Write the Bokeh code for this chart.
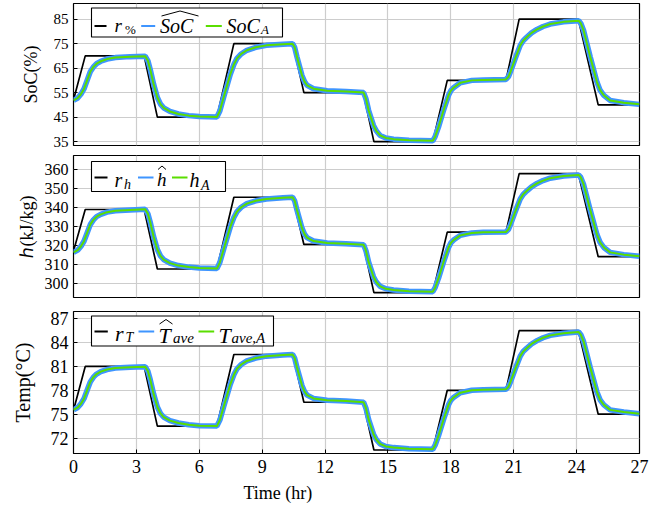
from bokeh.plotting import figure
from bokeh.layouts import column
from bokeh.models import Range1d, BoxAnnotation, Label, Arrow, Title, FixedTicker
from bokeh.embed import file_html
from bokeh.resources import INLINE

# ---------------- data ----------------
# reference trajectories r (piecewise linear)
t_ref = [0, 0.56, 3.37, 4.0, 6.84, 7.65, 10.46, 10.99, 13.82, 14.33,
         17.14, 17.83, 20.63, 21.26, 24.08, 25.03, 27]
soc_ref = [52, 70, 70, 45, 45, 75, 75, 55, 55, 35, 35, 60, 60, 85, 85, 50, 50]
h_ref = [317, 339, 339, 307.5, 307.5, 345.5, 345.5, 320.5, 320.5, 295, 295,
         327, 327, 358, 358, 314, 314]
temp_ref = [75.5, 81, 81, 73.5, 73.5, 82.5, 82.5, 76.5, 76.5, 70.5, 70.5,
            78, 78, 85.5, 85.5, 75, 75]

# actual (A) responses, sampled
t_act = [0, 0.2, 0.35, 0.5, 0.65, 0.8, 0.95, 1.1, 1.3, 1.6, 2.0, 2.7, 3.42,
         3.55, 3.66, 3.82, 4.0, 4.15, 4.3, 4.6, 5.0, 5.5, 6.0, 6.84,
         6.98, 7.16, 7.48, 7.65, 7.8, 8.0, 8.27, 8.7, 9.2, 10.0, 10.45,
         10.55, 10.66, 10.9, 11.02, 11.14, 11.45, 12.1, 13.0, 13.84,
         13.95, 14.08, 14.31, 14.45, 14.63, 14.9, 15.27, 16.0, 17.14,
         17.25, 17.41, 17.65, 17.89, 18.0, 18.13, 18.45, 19.0, 19.55, 20.63,
         20.75, 20.84, 21.07, 21.31, 21.45, 21.63, 21.85, 22.11, 22.4, 22.74,
         23.38, 24.1,
         24.2, 24.33, 24.65, 24.97, 25.12, 25.3, 25.6, 26.25, 27.0]
soc_act = [51.8, 52.8, 54.3, 56.5, 60.0, 63.5, 65.5, 66.8, 67.8, 68.7, 69.3,
           69.7, 69.9,
           68.0, 64.5, 58.5, 53.0, 50.3, 48.8, 47.3, 46.3, 45.6, 45.2, 45.0,
           47.5, 53.0, 62.5, 66.5, 69.0, 70.8, 72.3, 73.5, 74.3, 74.8, 75.0,
           73.5, 69.6, 62.0, 59.5, 58.0, 56.6, 55.8, 55.5, 55.0,
           52.5, 47.7, 41.6, 39.3, 37.5, 36.5, 36.0, 35.5, 35.3,
           37.0, 40.9, 47.7, 53.9, 55.8, 57.0, 59.0, 60.0, 60.2, 60.4,
           61.5, 63.4, 68.9, 74.3, 76.2, 77.7, 79.4, 80.8, 82.0, 83.0, 83.9,
           84.4,
           83.3, 80.5, 69.6, 59.3, 56.0, 53.9, 51.8, 50.9, 50.2]
h_act = [316.3, 317.5, 319.4, 322.2, 326.6, 331.0, 333.5, 335.2, 336.4, 337.6,
         338.3, 338.8, 339.1,
         336.7, 332.3, 324.7, 317.8, 314.4, 312.5, 310.6, 309.3, 308.5, 308.0,
         307.7,
         310.9, 317.8, 329.8, 334.8, 337.9, 340.2, 342.1, 343.6, 344.6, 345.2,
         345.5,
         343.6, 338.7, 329.1, 326.0, 324.1, 322.3, 321.3, 320.9, 320.3,
         317.2, 311.1, 303.4, 300.5, 298.3, 297.0, 296.4, 295.7, 295.5,
         297.6, 302.5, 311.1, 318.9, 321.3, 322.8, 325.3, 326.6, 326.9, 327.1,
         328.5, 330.9, 337.8, 344.6, 347.0, 348.9, 351.0, 352.8, 354.3, 355.6,
         356.7, 357.3,
         356.0, 352.4, 338.7, 325.7, 321.6, 318.9, 316.3, 315.1, 314.3]
temp_act = [75.54, 75.84, 76.29, 76.95, 78.0, 79.05, 79.65, 80.04, 80.34,
            80.61, 80.79, 80.91, 80.97,
            80.4, 79.35, 77.55, 75.9, 75.09, 74.64, 74.19, 73.89, 73.68, 73.56,
            73.5,
            74.25, 75.9, 78.75, 79.95, 80.7, 81.24, 81.69, 82.05, 82.29, 82.44,
            82.5,
            82.05, 80.88, 78.6, 77.85, 77.4, 76.98, 76.74, 76.65, 76.5,
            75.75, 74.31, 72.48, 71.79, 71.25, 70.95, 70.8, 70.65, 70.59,
            71.1, 72.27, 74.31, 76.17, 76.74, 77.1, 77.7, 78.0, 78.06, 78.12,
            78.45, 79.02, 80.67, 82.29, 82.86, 83.31, 83.82, 84.24, 84.6, 84.9,
            85.17, 85.32,
            84.99, 84.15, 80.88, 77.79, 76.8, 76.17, 75.54, 75.27, 75.06]
# estimates (hat) track the actual values (noise band drawn as a wide stroke)
soc_est = list(soc_act)
h_est = list(h_act)
temp_est = list(temp_act)

x_ticks = [0, 3, 6, 9, 12, 15, 18, 21, 24, 27]
soc_ticks = [35, 45, 55, 65, 75, 85]
h_ticks = [300, 310, 320, 330, 340, 350, 360]
temp_ticks = [72, 75, 78, 81, 84, 87]

# ---------------- style ----------------
FONT = "Liberation Serif"
BLUE = "#3f95ff"
GREEN = "#5ade00"
GRID = "#cdcdcd"
W = 670
FL, FR = 73, 639          # frame left/right in px
X0, X1 = 0, 27
TXT_SHIFT = -5.5          # baseline correction for legend labels


def make_panel(height, btop, bbot, yr, yticks, ylabel, tick_sz, lab_sz,
               lab_stand, show_x):
    p = figure(width=W, height=height, x_range=Range1d(X0, X1),
               y_range=Range1d(*yr), output_backend="svg",
               toolbar_location=None, min_border_left=FL,
               min_border_right=W - FR, min_border_top=btop,
               min_border_bottom=bbot)
    p.outline_line_color = "black"
    p.outline_line_alpha = 1.0
    p.outline_line_width = 1.2
    p.background_fill_color = "white"
    p.border_fill_color = "white"
    p.xaxis.ticker = FixedTicker(ticks=x_ticks)
    p.yaxis.ticker = FixedTicker(ticks=yticks)
    p.xgrid.ticker = FixedTicker(ticks=x_ticks)
    p.ygrid.ticker = FixedTicker(ticks=yticks)
    for g in (p.xgrid, p.ygrid):
        g.grid_line_color = GRID
        g.grid_line_width = 1.2
    for ax in (p.xaxis, p.yaxis):
        ax.axis_line_color = None
        ax.major_tick_in = 4
        ax.major_tick_out = 0
        ax.major_tick_line_color = "black"
        ax.minor_tick_line_color = None
        ax.major_label_text_font = FONT
        ax.major_label_text_font_size = f"{tick_sz}px"
        ax.major_label_text_color = "black"
        ax.axis_label_text_font = FONT
        ax.axis_label_text_font_style = "normal"
        ax.axis_label_text_color = "black"
    p.yaxis.axis_label = ylabel
    p.yaxis.axis_label_text_font_size = f"{lab_sz}px"
    p.yaxis.axis_label_standoff = lab_stand
    p.yaxis.major_label_standoff = 5
    p.xaxis.major_label_standoff = 6
    if not show_x:
        p.xaxis.visible = False
    return p


def add_legend(p, ftop, fh, yr, box, samples, texts, hat):
    def X(px):
        return X0 + (px - FL) / (FR - FL) * (X1 - X0)

    def Y(py):
        return yr[1] - (py - ftop) / fh * (yr[1] - yr[0])

    l, t, r, b = box
    p.add_layout(BoxAnnotation(left=X(l), right=X(r), top=Y(t), bottom=Y(b),
                               fill_color="white", fill_alpha=1.0,
                               line_color="black", line_width=1.1,
                               line_alpha=1.0))
    for (x0, x1, yy, col) in samples:
        p.add_layout(BoxAnnotation(left=X(x0), right=X(x1), top=Y(yy - 1.0),
                                   bottom=Y(yy + 1.0), fill_color=col,
                                   fill_alpha=1.0, line_color=None))
    for (xx, yy, txt, sz, style) in texts:
        p.add_layout(Label(x=X(xx), y=Y(yy + TXT_SHIFT), text=txt,
                           text_font=FONT, text_font_size=f"{sz}px",
                           text_font_style=style, text_color="black",
                           text_align="left", text_baseline="alphabetic"))
    for i in range(len(hat) - 1):
        (ax_, ay_), (bx_, by_) = hat[i], hat[i + 1]
        p.add_layout(Arrow(start=None, end=None, x_start=X(ax_),
                           y_start=Y(ay_), x_end=X(bx_), y_end=Y(by_),
                           line_color="black", line_width=1.0))


def draw(p, yref, yest, yact):
    p.line(t_ref, yref, line_color="black", line_width=1.7)
    p.line(t_act, yest, line_color=BLUE, line_width=5.5)
    p.line(t_act, yact, line_color=GREEN, line_width=2.0)


# ---------- panel 1: SoC ----------
yr1 = (33.4, 91.4)
p1 = make_panel(150, 3, 5, yr1, soc_ticks, "SoC(%)", 15, 18, 10, False)
draw(p1, soc_ref, soc_est, soc_act)
add_legend(p1, 3, 142, yr1, (91, 7.5, 282, 36.5),
           [(94, 106, 25.5, "black"), (140.7, 154.7, 25.5, BLUE),
            (205.3, 221.3, 25.5, GREEN)],
           [(114, 30, "r", 19, "italic"), (124.5, 34, "%", 13, "normal"),
            (159.5, 30.5, "SoC", 20, "italic"),
            (226, 30.5, "SoC", 20, "italic"), (260.5, 34.5, "A", 13, "italic")],
           [(161, 15.5), (179.5, 10.5), (198, 15.5)])

# ---------- panel 2: enthalpy ----------
yr2 = (292.4, 367.6)
p2 = make_panel(154, 5, 7, yr2, h_ticks, "\u210e(kJ/kg)", 16, 18, 5, False)
draw(p2, h_ref, h_est, h_act)
add_legend(p2, 155, 142, yr2, (91, 161, 225, 191),
           [(94, 107, 177, "black"), (137.5, 153, 177, BLUE),
            (171.5, 187, 177, GREEN)],
           [(114, 184.5, "r", 20, "italic"), (123.5, 189.5, "h", 14, "italic"),
            (156.5, 184.5, "h", 19, "italic"),
            (189, 184.5, "h", 20, "italic"), (200.5, 190, "A", 14, "italic")],
           [(157.5, 169), (161.5, 165.5), (165.5, 169)])

# ---------- panel 3: temperature ----------
yr3 = (70.06, 87.9)
p3 = make_panel(205, 7, 56, yr3, temp_ticks, "Temp(\u00b0C)", 18, 20, 14, True)
draw(p3, temp_ref, temp_est, temp_act)
add_legend(p3, 311, 142, yr3, (91, 315.5, 273, 345.5),
           [(94, 107.3, 331, "black"), (138, 153.7, 331, BLUE),
            (198, 213.7, 331, GREEN)],
           [(114.5, 338, "r", 22, "italic"), (125, 342, "T", 14, "italic"),
            (158, 340, "T", 22, "italic"), (172.5, 343, "ave", 15, "italic"),
            (218, 340, "T", 22, "italic"), (231, 343, "ave,A", 15, "italic")],
           [(159, 323.5), (165.5, 319), (172, 323.5)])
p3.add_layout(Title(text="Time (hr)", align="left", offset=170,
                    text_font=FONT, text_font_size="18px",
                    text_font_style="normal", text_color="black"), "below")

layout = column(p1, p2, p3, spacing=0)
open("out.html", "w").write(file_html(layout, INLINE))
